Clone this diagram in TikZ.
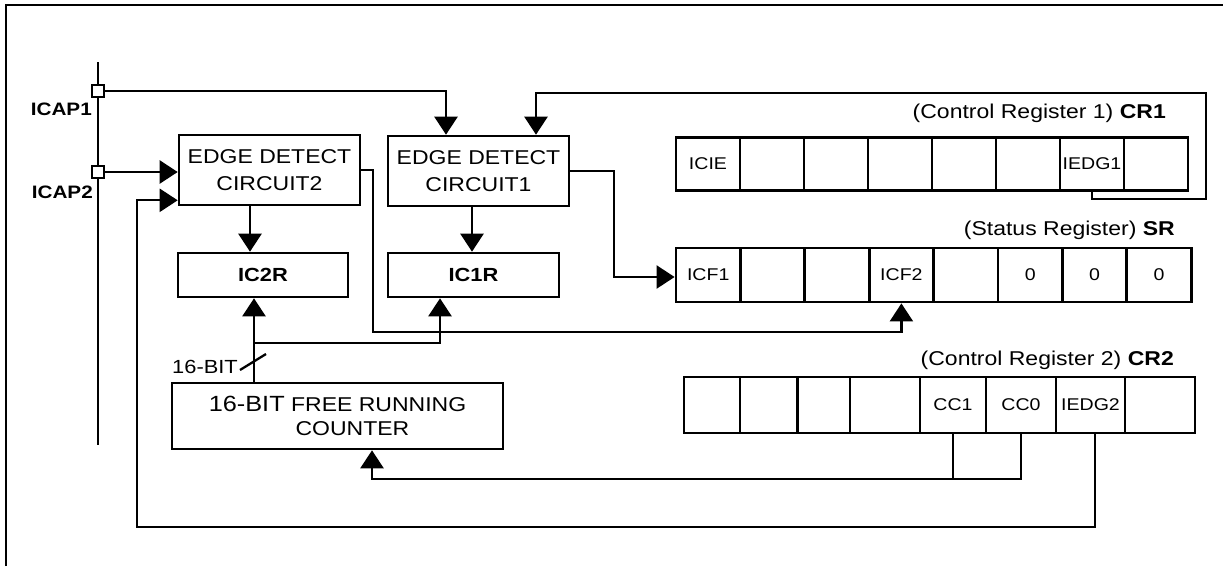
\documentclass[tikz,border=0pt]{standalone}
\usepackage{fontspec}
\setmainfont{Liberation Sans}[FakeStretch=1.15]
\usetikzlibrary{arrows.meta,calc}
\tikzstyle{block} = [rectangle, draw, line width=2.6pt, inner sep=0pt,
    align=center, font=\fontsize{20}{27}\selectfont]
\tikzstyle{reg} = [rectangle, draw, line width=2.6pt, inner sep=0pt,
    font=\fontsize{19}{19}\selectfont\bfseries]
\tikzstyle{cell} = [rectangle, draw, line width=2.8pt, inner sep=0pt,
    font=\fontsize{17}{17}\selectfont]
\tikzstyle{pin} = [rectangle, draw, fill=white, line width=2.3pt,
    minimum size=12pt, inner sep=0pt]
\tikzstyle{title} = [anchor=east, inner sep=0pt, font=\fontsize{20}{20}\selectfont]
\tikzstyle{line} = [draw, line width=2.3pt, -{Triangle[length=18pt,width=23pt]}]
\tikzstyle{wire} = [draw, line width=2.3pt]

\begin{document}
\begin{tikzpicture}[x=1pt, y=-1pt]
    \useasboundingbox (0,0) rectangle (1223,566);

    % Frame and input bus
    \draw [line width=2.3pt] (6,566) -- (6,5) -- (1223,5);
    \coordinate (busTop) at (98,62);
    \coordinate (busBot) at (98,445);
    \path [wire] (busTop) -- (busBot);

    % Place nodes
    \node [pin] (icap1) at (98,91) {};
    \node [pin] (icap2) at (98,172) {};
    \node [anchor=east, inner sep=0pt, font=\fontsize{18}{18}\selectfont\bfseries] (icap1lbl) at (92,109) {ICAP1};
    \node [anchor=east, inner sep=0pt, font=\fontsize{18}{18}\selectfont\bfseries] (icap2lbl) at (93,192) {ICAP2};

    \node [block, minimum width=181pt, minimum height=70pt] (edge2) at (269.5,170) {EDGE DETECT\\CIRCUIT2};
    \node [block, minimum width=181pt, minimum height=70pt] (edge1) at (478.5,171) {EDGE DETECT\\CIRCUIT1};
    \node [reg, minimum width=170pt, minimum height=44pt] (ic2r) at (263,275) {IC2R};
    \node [reg, minimum width=171pt, minimum height=44pt] (ic1r) at (473.5,275) {IC1R};
    \node [block, minimum width=331pt, minimum height=66pt, font=\fontsize{20}{24}\selectfont] (counter) at (337.5,416)
        {{\fontsize{22}{24}\selectfont 16-BIT} FREE RUNNING\\\hspace*{30pt}COUNTER};
    \node [anchor=east, inner sep=0pt, font=\fontsize{19}{19}\selectfont] (buswidth) at (238,367) {16-BIT};

    % Registers
    \node [title] (cr1name) at (1166,113) {(Control Register 1) \textbf{CR1}};
    \foreach \i/\t in {1/ICIE,2/{},3/{},4/{},5/{},6/{},7/IEDG1,8/{}}
        \node [cell, minimum width=64pt, minimum height=53pt] (cr1c\i) at ({676+64*(\i-0.5)},164) {\t};
    \node [title] (srname) at (1175,230) {(Status Register) \textbf{SR}};
    \foreach \i/\t in {1/ICF1,2/{},3/{},4/ICF2,5/{},6/0,7/0,8/0}
        \node [cell, minimum width=64.4pt, minimum height=54pt] (sr\i) at ({676+64.4*(\i-0.5)},275) {\t};
    \node [title] (cr2name) at (1174,360) {(Control Register 2) \textbf{CR2}};
    \foreach \i/\xl/\xr/\t in {1/684/740/{},2/740/797.5/{},3/797.5/850/{},4/850/920/{},
            5/920/986/CC1,6/986/1056/CC0,7/1056/1125/IEDG2,8/1125/1195/{}}
        \node [cell, minimum width={(\xr-\xl)*1pt}, minimum height=56pt] (cr2c\i) at ({(\xl+\xr)/2},405) {\t};

    % Draw edges
    \path [line] (icap1.east) -| ([xshift=-32.5pt]edge1.north);
    \path [line] (icap2.east) -- (edge2.west |- icap2);
    \path [line] (cr1c7.south) |- (1206,199) |- (536,93) -- ([xshift=57.5pt]edge1.north);
    \path [line] ([xshift=4.5pt]cr2c7.south) |- (137,527) |- ($(edge2.south west)+(0,-6)$);
    \path [line] (edge2.east) -| (373,332) -| (sr4.south);
    \path [line] (edge1.east) -| (614,277) -- (sr1.west |- 614,277);
    \path [line] ([xshift=-19.5pt]edge2.south) -- ([xshift=-13pt]ic2r.north);
    \path [line] ([xshift=-6.5pt]edge1.south) -- ([xshift=-1.5pt]ic1r.north);
    \path [line] ([xshift=-83.5pt]counter.north) -- ([xshift=-9pt]ic2r.south);
    \coordinate (tap) at (254,343);
    \path [line] (tap) -| ([xshift=-33.5pt]ic1r.south);
    \draw [wire] (240,370) -- (266,354);
    \path [line] (cr2c6.south) |- (372,479) -- ([xshift=34.5pt]counter.south);
    \coordinate (ccjoin) at (953,479);
    \path [wire] (cr2c5.south) -- (ccjoin);

\end{tikzpicture}
\end{document}
